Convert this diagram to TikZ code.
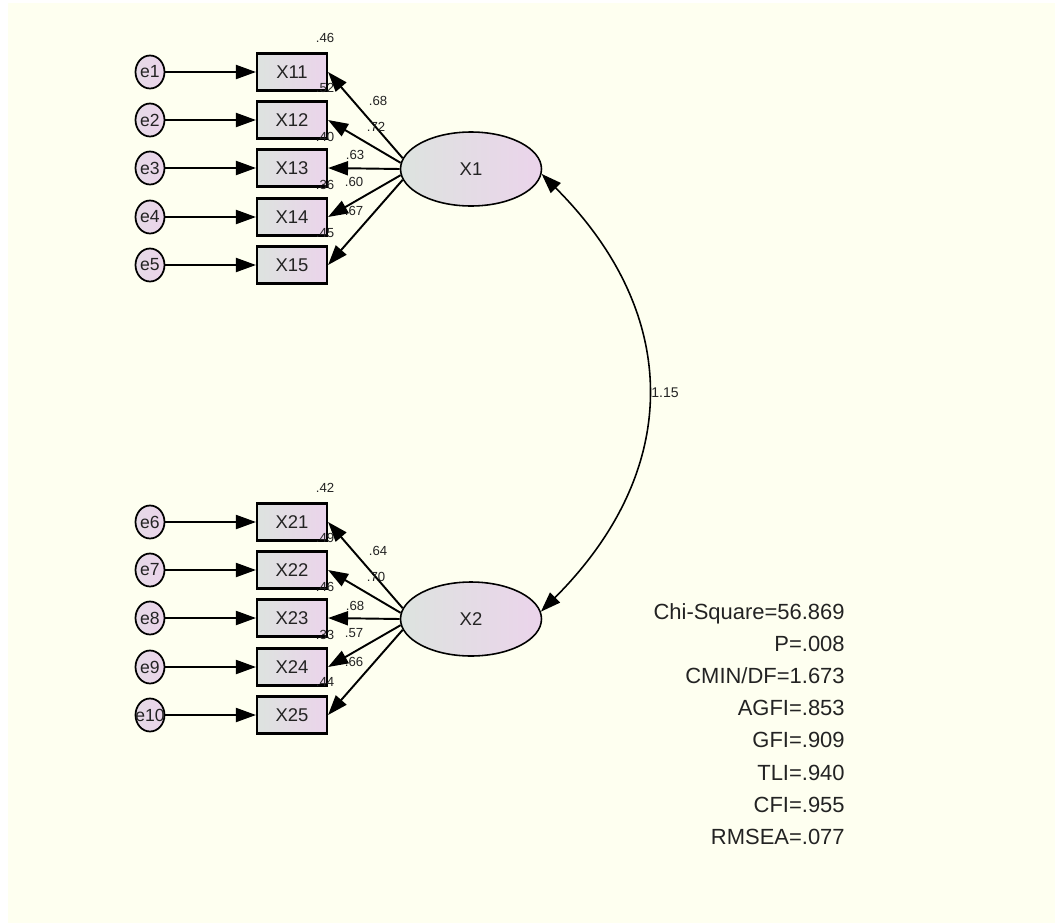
\documentclass[tikz,border=0pt]{standalone}
\usepackage{fontspec}
\setmainfont{Liberation Sans}
\usetikzlibrary{arrows.meta,shapes.geometric}
\definecolor{paper}{RGB}{254,255,240}
\definecolor{shadeL}{RGB}{221,227,223}
\definecolor{shadeR}{RGB}{235,212,235}
\definecolor{ink}{RGB}{35,35,35}
\begin{document}
\begin{tikzpicture}[x=0.02cm, y=-0.02cm,
    every node/.style={font=\fontsize{10.5}{12}\selectfont, text=ink},
    obs/.style={rectangle, draw=black, line width=1.2pt, left color=shadeL, right color=shadeR, minimum width=1.4cm, minimum height=0.74cm, inner sep=0pt},
    lat/.style={ellipse, draw=black, line width=0.9pt, left color=shadeL, right color=shadeR, minimum width=2.82cm, minimum height=1.48cm, inner sep=0pt},
    err/.style={ellipse, draw=black, line width=1pt, left color=shadeL!40!shadeR, right color=shadeR, minimum width=0.58cm, minimum height=0.66cm, inner sep=0pt, font=\fontsize{10}{11}\selectfont},
    est/.style={font=\fontsize{7.5}{8.5}\selectfont, inner sep=0pt},
    arr/.style={-{Triangle[length=4mm,width=2.8mm]}, line width=1.1pt, black},
    cov/.style={{Triangle[length=4mm,width=2.8mm]}-{Triangle[length=4mm,width=2.8mm]}, line width=0.9pt, black}
]
\useasboundingbox (0,0) rectangle (1055,923);
\fill[paper] (8,3) rectangle (1055,923);

% first factor
\node[lat] (X1)  at (471,169) {X1};
\node[obs] (X11) at (292,72)  {X11};
\node[obs] (X12) at (292,120) {X12};
\node[obs] (X13) at (292,168) {X13};
\node[obs] (X14) at (292,217) {X14};
\node[obs] (X15) at (292,265) {X15};
\node[err] (e1)  at (150,72)  {e1};
\node[err] (e2)  at (150,120) {e2};
\node[err] (e3)  at (150,168) {e3};
\node[err] (e4)  at (150,217) {e4};
\node[err] (e5)  at (150,265) {e5};

% second factor
\node[lat] (X2)  at (471,619) {X2};
\node[obs] (X21) at (292,522) {X21};
\node[obs] (X22) at (292,570) {X22};
\node[obs] (X23) at (292,618) {X23};
\node[obs] (X24) at (292,667) {X24};
\node[obs] (X25) at (292,715) {X25};
\node[err] (e6)  at (150,522) {e6};
\node[err] (e7)  at (150,570) {e7};
\node[err] (e8)  at (150,618) {e8};
\node[err] (e9)  at (150,667) {e9};
\node[err, inner xsep=-1.2mm] (e10) at (150,715) {e10};

\draw[arr] (e1) -- (X11);
\draw[arr] (e2) -- (X12);
\draw[arr] (e3) -- (X13);
\draw[arr] (e4) -- (X14);
\draw[arr] (e5) -- (X15);
\draw[arr] (e6) -- (X21);
\draw[arr] (e7) -- (X22);
\draw[arr] (e8) -- (X23);
\draw[arr] (e9) -- (X24);
\draw[arr] (e10) -- (X25);

\draw[arr] (X1.171) -- (X11.east);
\draw[arr] (X1.175) -- (X12.east);
\draw[arr] (X1.180) -- (X13.east);
\draw[arr] (X1.185) -- (X14.east);
\draw[arr] (X1.189) -- (X15.east);
\draw[arr] (X2.171) -- (X21.east);
\draw[arr] (X2.175) -- (X22.east);
\draw[arr] (X2.180) -- (X23.east);
\draw[arr] (X2.185) -- (X24.east);
\draw[arr] (X2.189) -- (X25.east);

\draw[cov] (X1.-4) .. controls +(141,141) and +(141,-141) .. node[right, inner sep=2pt, font=\fontsize{8}{9}\selectfont] (c12) {1.15} (X2.6);

% estimates
\node[est] (r11) at (325,38)  {.46};
\node[est] (r12) at (325,88)  {.52};
\node[est] (r13) at (325,137) {.40};
\node[est] (r14) at (325,185) {.36};
\node[est] (r15) at (325,233) {.45};
\node[est] (l11) at (378,101) {.68};
\node[est] (l12) at (376,127) {.72};
\node[est] (l13) at (355,155) {.63};
\node[est] (l14) at (354,182) {.60};
\node[est] (l15) at (354,211) {.67};
\node[est] (r21) at (325,488) {.42};
\node[est] (r22) at (325,538) {.49};
\node[est] (r23) at (325,587) {.46};
\node[est] (r24) at (325,635) {.33};
\node[est] (r25) at (325,682) {.44};
\node[est] (l21) at (378,551) {.64};
\node[est] (l22) at (376,577) {.70};
\node[est] (l23) at (355,606) {.68};
\node[est] (l24) at (354,633) {.57};
\node[est] (l25) at (354,662) {.66};

\node[anchor=north east, align=right, inner sep=0pt, font=\fontsize{12.5}{18.3}\selectfont] (fit) at (845,603)
  {Chi-Square=56.869\\P=.008\\CMIN/DF=1.673\\AGFI=.853\\GFI=.909\\TLI=.940\\CFI=.955\\RMSEA=.077};
\end{tikzpicture}
\end{document}
